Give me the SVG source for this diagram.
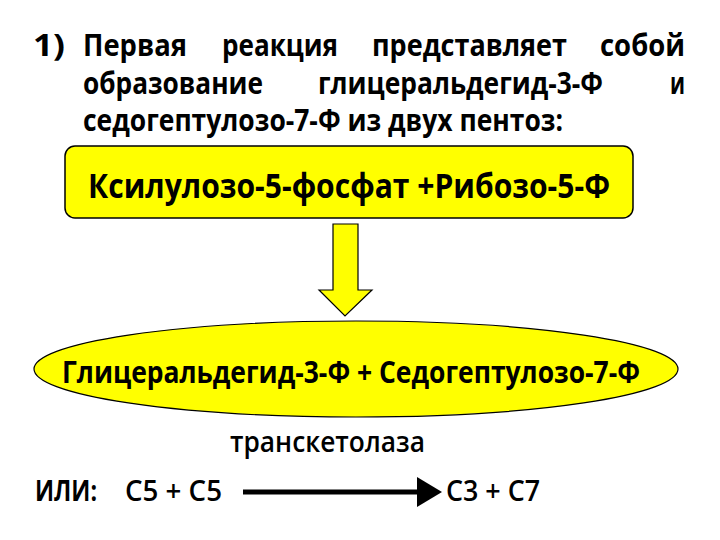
<svg xmlns="http://www.w3.org/2000/svg" width="720" height="540" viewBox="0 0 720 540">
<style>
.t{font-family:"Open Sans","Liberation Sans",sans-serif;font-weight:bold;fill:#000;}
.h{font-size:30px;}
.n{font-family:"Open Sans","Liberation Sans",sans-serif;font-weight:600;fill:#000;}
</style>
<defs>
<marker id="ah" markerWidth="6" markerHeight="6" refX="1" refY="3" orient="auto" markerUnits="strokeWidth"><path d="M0,0 L5,3 L0,6 Z" fill="#000"/></marker>
</defs>
<rect width="720" height="540" fill="#fff"/>
<g id="heading">
<text class="t h" x="33" y="56" textLength="32" lengthAdjust="spacingAndGlyphs">1)</text>
<text class="t h" x="83" y="56" textLength="104" lengthAdjust="spacingAndGlyphs">Первая</text>
<text class="t h" x="222" y="56" textLength="116" lengthAdjust="spacingAndGlyphs">реакция</text>
<text class="t h" x="372" y="56" textLength="195" lengthAdjust="spacingAndGlyphs">представляет</text>
<text class="t h" x="600" y="56" textLength="85" lengthAdjust="spacingAndGlyphs">собой</text>
<text class="t h" x="83" y="94" textLength="180" lengthAdjust="spacingAndGlyphs">образование</text>
<text class="t h" x="318" y="94" textLength="285" lengthAdjust="spacingAndGlyphs">глицеральдегид-3-Ф</text>
<text class="t h" x="670" y="94" textLength="15" lengthAdjust="spacingAndGlyphs">и</text>
<text class="t h" x="83" y="131" textLength="480" lengthAdjust="spacingAndGlyphs">седогептулозо-7-Ф из двух пентоз:</text>
</g>
<g id="reactants">
<rect x="65" y="146" width="568" height="72" rx="10" fill="#ffff00" stroke="#000" stroke-width="1.5"/>
<text class="t" x="88" y="198" font-size="34" textLength="522" lengthAdjust="spacingAndGlyphs">Ксилулозо-5-фосфат +Рибозо-5-Ф</text>
</g>
<g id="connectors">
<path d="M333,224 L358,224 L358,290 L372,290 L345,316 L319,290 L333,290 Z" fill="#ffff00" stroke="#000" stroke-width="1.2"/>
<line x1="243" y1="492" x2="422" y2="492" stroke="#000" stroke-width="5" marker-end="url(#ah)"/>
</g>
<g id="products">
<ellipse cx="356" cy="369" rx="322" ry="48" fill="#ffff00" stroke="#000" stroke-width="1.2"/>
<text class="t" x="62" y="383" font-size="30" textLength="578" lengthAdjust="spacingAndGlyphs">Глицеральдегид-3-Ф + Седогептулозо-7-Ф</text>
</g>
<g id="bottom">
<text class="n" x="230" y="452" font-size="29" textLength="195" lengthAdjust="spacingAndGlyphs">транскетолаза</text>
<text class="t" x="35" y="501" font-size="29" textLength="62" lengthAdjust="spacingAndGlyphs">ИЛИ:</text>
<text class="n" x="125" y="501" font-size="29" textLength="97" lengthAdjust="spacingAndGlyphs">С5 + С5</text>
<text class="n" x="446" y="501" font-size="29" textLength="94" lengthAdjust="spacingAndGlyphs">С3 + С7</text>
</g>
</svg>
